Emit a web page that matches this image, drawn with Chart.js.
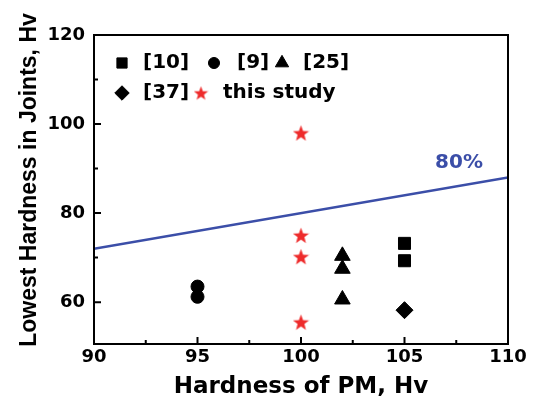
<!DOCTYPE html>
<html>
<head>
<meta charset="utf-8">
<title>Lowest hardness in joints vs hardness of PM</title>
<script src="https://cdn.jsdelivr.net/npm/chart.js@4.4.0/dist/chart.umd.min.js"></script>
<style>
  body { margin: 0; background: #fff; }
</style>
</head>
<body>
<canvas id="hvChart" width="536" height="403"></canvas>
<script>
// values
const xTicks = [90, 95, 100, 105, 110];
const xMinor = [92.5, 97.5, 102.5, 107.5];
const yTicks = [60, 80, 100, 120];
const yMinor = [70, 90, 110];

const ref10X = [105, 105];
const ref10Y = [73.2, 69.3];
const ref9X = [95, 95];
const ref9Y = [63.5, 61.2];
const ref25X = [102, 102, 102];
const ref25Y = [70.4, 67.5, 60.6];
const ref37X = [105];
const ref37Y = [58.2];
const studyX = [100, 100, 100, 100];
const studyY = [98, 75, 70.2, 55.5];
const lineX = [90, 110];
const lineY = [72, 88];
const lineLabel = '80%';
const legendLabels = ['[10]', '[9]', '[25]', '[37]', 'this study'];
const yTitle = 'Lowest Hardness in Joints, Hv';

const BLUE = '#3b4ea8';
const RED = '#ee2b2b';

function pts(xs, ys) {
    return xs.map((x, i) => ({ x: x, y: ys[i] }));
}

// filled 5 point star, chart.js only has the asterisk kind
function makeStar(size, color) {
    const c = document.createElement('canvas');
    c.width = size; c.height = size;
    const g = c.getContext('2d');
    const R = size / 2, r = R * 0.42;
    const cx = size / 2, cy = size / 2 + R * 0.09;
    g.beginPath();
    for (let i = 0; i < 10; i++) {
        const a = -Math.PI / 2 + i * Math.PI / 5;
        const rr = i % 2 ? r : R;
        g.lineTo(cx + rr * Math.cos(a), cy + rr * Math.sin(a));
    }
    g.closePath();
    g.fillStyle = color;
    g.fill();
    return c;
}
const starBig = makeStar(17, RED);
const starSmall = makeStar(15, RED);

const frame = {
    id: 'frame',
    afterDraw(chart) {
        const ctx = chart.ctx, a = chart.chartArea;
        const x = chart.scales.x, y = chart.scales.y;
        ctx.save();
        ctx.strokeStyle = '#000';
        ctx.lineWidth = 2;
        ctx.strokeRect(a.left, a.top, a.right - a.left, a.bottom - a.top);
        ctx.beginPath();
        xTicks.forEach(v => { const p = x.getPixelForValue(v); ctx.moveTo(p, a.bottom); ctx.lineTo(p, a.bottom - 7); });
        xMinor.forEach(v => { const p = x.getPixelForValue(v); ctx.moveTo(p, a.bottom); ctx.lineTo(p, a.bottom - 4); });
        yTicks.forEach(v => { const p = y.getPixelForValue(v); ctx.moveTo(a.left, p); ctx.lineTo(a.left + 7, p); });
        yMinor.forEach(v => { const p = y.getPixelForValue(v); ctx.moveTo(a.left, p); ctx.lineTo(a.left + 4, p); });
        ctx.stroke();

        // 80% label
        ctx.fillStyle = BLUE;
        ctx.font = 'bold 20px "DejaVu Sans"';
        ctx.textAlign = 'center';
        ctx.textBaseline = 'middle';
        ctx.fillText(lineLabel, 459, 163);

        // y title sits a bit above the plot centre in the original
        ctx.fillStyle = '#000';
        ctx.font = 'bold 23px "Liberation Sans"';
        ctx.translate(30, 180);
        ctx.rotate(-Math.PI / 2);
        ctx.fillText(yTitle, 0, 0);
        ctx.restore();
    }
};

// legend inside the plot, two rows
const inLegend = {
    id: 'inLegend',
    afterDraw(chart) {
        const ctx = chart.ctx;
        const items = [
            { ds: 0, mx: 122, tx: 143, y: 63 },
            { ds: 1, mx: 214, tx: 237, y: 63 },
            { ds: 2, mx: 282, tx: 303, y: 63 },
            { ds: 3, mx: 122, tx: 143, y: 93 },
            { ds: 4, mx: 201, tx: 223, y: 93 }
        ];
        ctx.save();
        items.forEach((it, i) => {
            const d = chart.data.datasets[it.ds];
            let style = d.pointStyle;
            if (style === starBig) style = starSmall;
            ctx.fillStyle = d.backgroundColor;
            ctx.strokeStyle = d.borderColor;
            Chart.helpers.drawPoint(ctx, {
                pointStyle: style,
                radius: d.pointRadius * 0.85,
                rotation: 0,
                borderWidth: 1
            }, it.mx, it.y);
            ctx.fillStyle = '#000';
            ctx.font = 'bold 20px "DejaVu Sans"';
            ctx.textAlign = 'left';
            ctx.textBaseline = 'middle';
            ctx.fillText(legendLabels[i], it.tx, it.y);
        });
        ctx.restore();
    }
};

const tickFont = { family: 'DejaVu Sans', size: 18, weight: 'bold' };

new Chart(document.getElementById('hvChart'), {
    type: 'scatter',
    data: {
        datasets: [
            { label: legendLabels[0], data: pts(ref10X, ref10Y), pointStyle: 'rect', pointRadius: 8.5, backgroundColor: '#000', borderColor: '#000' },
            { label: legendLabels[1], data: pts(ref9X, ref9Y), pointStyle: 'circle', pointRadius: 6.5, backgroundColor: '#000', borderColor: '#000' },
            { label: legendLabels[2], data: pts(ref25X, ref25Y), pointStyle: 'triangle', pointRadius: 9, backgroundColor: '#000', borderColor: '#000' },
            { label: legendLabels[3], data: pts(ref37X, ref37Y), pointStyle: 'rectRot', pointRadius: 8.5, backgroundColor: '#000', borderColor: '#000' },
            { label: legendLabels[4], data: pts(studyX, studyY), pointStyle: starBig, pointRadius: 8.5, backgroundColor: RED, borderColor: RED },
            { type: 'line', label: lineLabel, data: pts(lineX, lineY), borderColor: BLUE, borderWidth: 2.5, pointRadius: 0, fill: false }
        ]
    },
    options: {
        responsive: false,
        animation: false,
        events: [],
        layout: { padding: { left: 0, top: 35, right: 28, bottom: 0 } },
        plugins: { legend: { display: false }, tooltip: { enabled: false } },
        scales: {
            x: {
                type: 'linear', min: 90, max: 110,
                grid: { display: false, drawTicks: false },
                border: { display: false },
                afterBuildTicks: s => { s.ticks = xTicks.map(v => ({ value: v })); },
                afterFit: s => { s.height = 59; },
                ticks: { font: tickFont, color: '#000', padding: 3, maxRotation: 0 },
                title: { display: true, text: 'Hardness of PM, Hv', color: '#000', font: { family: 'DejaVu Sans', size: 23, weight: 'bold' }, padding: { top: 0, bottom: 2 } }
            },
            y: {
                type: 'linear', min: 50.6, max: 120,
                grid: { display: false, drawTicks: false },
                border: { display: false },
                afterBuildTicks: s => { s.ticks = yTicks.map(v => ({ value: v })); },
                afterFit: s => { s.width = 94; },
                ticks: { font: tickFont, color: '#000', padding: 9 },
                title: { display: false }
            }
        }
    },
    plugins: [frame, inLegend]
});
</script>
</body>
</html>
